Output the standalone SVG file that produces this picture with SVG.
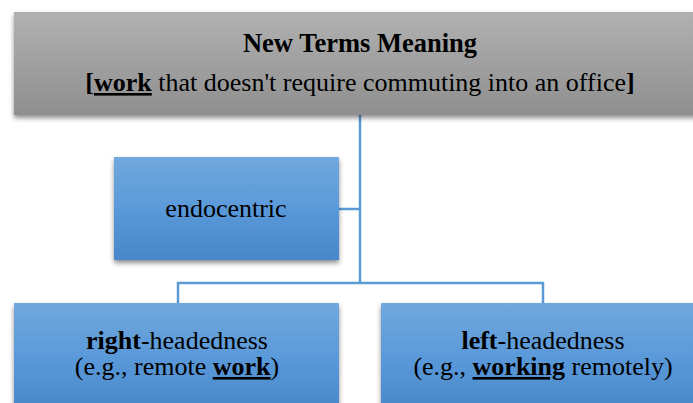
<svg xmlns="http://www.w3.org/2000/svg" width="693" height="403" viewBox="0 0 693 403">
<style>
.t{font-family:"Liberation Serif",serif;font-size:26px;fill:#000;text-anchor:middle}
.b{font-weight:bold}
.u{text-decoration:underline}
.conn{fill:none;stroke:#5b9bd5;stroke-width:2.5}
</style>
<defs>
<linearGradient id="gray" x1="0" y1="0" x2="0" y2="1"><stop offset="0" stop-color="#b1b1b1"/><stop offset="1" stop-color="#8f8f8f"/></linearGradient>
<linearGradient id="blue" x1="0" y1="0" x2="0" y2="1"><stop offset="0" stop-color="#71a8dd"/><stop offset="0.5" stop-color="#5a99d9"/><stop offset="1" stop-color="#4787c9"/></linearGradient>
<filter id="sh" x="-10%" y="-10%" width="120%" height="130%"><feDropShadow dx="0" dy="3" stdDeviation="2.5" flood-color="#000" flood-opacity="0.45"/></filter>
</defs>
<g id="connectors">
<path class="conn" d="M360 115 V283 M339 209 H360 M178 303 V283 H543 V303"/>
</g>
<g id="top">
<rect x="14" y="12" width="690" height="103" fill="url(#gray)" filter="url(#sh)"/>
<text x="360" y="52" class="t b" font-family="Liberation Serif" style="font-size:26.5px">New Terms Meaning</text>
<text x="360" y="91" class="t" font-family="Liberation Serif"><tspan class="b">[</tspan><tspan class="b u">work</tspan> that doesn't require commuting into an office<tspan class="b">]</tspan></text>
</g>
<g id="endocentric">
<rect x="114" y="157" width="225" height="103" fill="url(#blue)" filter="url(#sh)"/>
<text x="226" y="217" class="t" font-family="Liberation Serif">endocentric</text>
</g>
<g id="right">
<rect x="14" y="303" width="325" height="110" fill="url(#blue)" filter="url(#sh)"/>
<text x="177" y="349" class="t" font-family="Liberation Serif"><tspan class="b">right</tspan>-headedness</text>
<text x="177" y="375" class="t" font-family="Liberation Serif">(e.g., remote <tspan class="b u">work</tspan>)</text>
</g>
<g id="left">
<rect x="381" y="303" width="330" height="110" fill="url(#blue)" filter="url(#sh)"/>
<text x="543" y="349" class="t" font-family="Liberation Serif"><tspan class="b">left</tspan>-headedness</text>
<text x="543" y="375" class="t" font-family="Liberation Serif">(e.g., <tspan class="b u">working</tspan> remotely)</text>
</g>
</svg>
